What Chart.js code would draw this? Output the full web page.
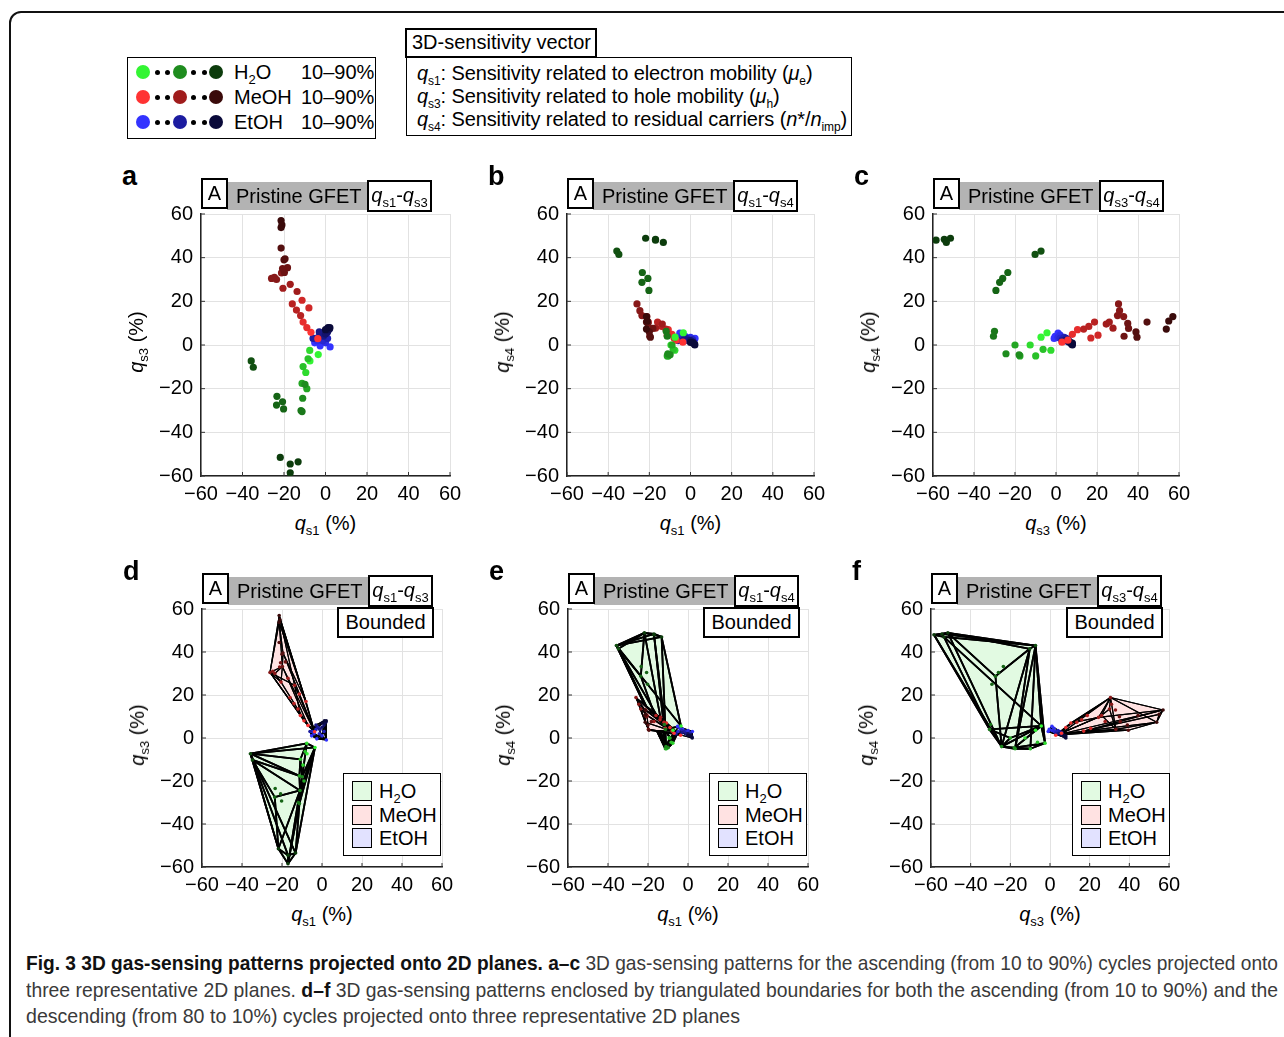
<!DOCTYPE html>
<html>
<head>
<meta charset="utf-8">
<script src="https://cdn.jsdelivr.net/npm/chart.js@4.4.1/dist/chart.umd.min.js"></script>
<style>
  body { margin: 0; background: #fff; }
  #page { position: relative; width: 1284px; height: 1037px; overflow: hidden;
          font-family: "Liberation Sans", Arial, sans-serif; color: #000; }
  .frame { position: absolute; left: 9px; top: 11px; width: 1300px; height: 1100px;
           border: 2px solid #111; border-radius: 12px; }
  .box { position: absolute; border: 1.5px solid #000; box-sizing: border-box; background: #fff; }
  .thick { border-width: 2.5px; }
  .txt { position: absolute; font-size: 20px; line-height: 24px; white-space: nowrap; }
  .letter { position: absolute; font-size: 27px; font-weight: bold; line-height: 30px; }
  .gray { position: absolute; background: #b3b3b3; }
  .dot { position: absolute; border-radius: 50%; }
  .sw { position: absolute; width: 20px; height: 20px; border: 1.5px solid #000; box-sizing: border-box; }
  sub { font-size: 13px; vertical-align: -5px; line-height: 0; }
  .vec sub { font-size: 12px; }
  canvas { position: absolute; }
  .cap { position: absolute; left: 26px; font-size: 21px; line-height: 24px; white-space: nowrap;
         transform-origin: 0 50%; color: #3a3a3a; display: inline-block; }
  .cap b { color: #111; }
  .ytitle { transform: translate(-50%, -50%) rotate(-90deg); }
</style>
</head>
<body>
<div id="page">
  <div class="frame"></div>
</div>
<script>
const tickValues = [-60, -40, -20, 0, 20, 40, 60];
const levelLabels = ['10%', '20%', '30%', '40%', '50%', '60%', '70%', '80%', '90%'];

// H2O
const h2oLevel = [1, 1, 2, 2, 3, 3, 4, 4, 5, 5, 6, 6, 7, 7, 7, 7, 8, 8, 9, 9, 9, 9];
const h2oQs1 = [-3.5, -7.5, -7.6, -9.5, -10.8, -8.4, -11.3, -9, -11, -9.9, -11.8, -11.3,
                -23.4, -20.7, -23.6, -20.2, -35.8, -34.8, -21.8, -17, -13.2, -17];
const h2oQs3 = [-4.4, -7.3, -2.5, -12.6, -9.9, -6.3, -17.6, -20, -24.4, -18, -30, -30.5,
                -23.5, -26, -27.5, -29.3, -7.3, -10.2, -51.5, -54.5, -53.5, -58.5];
const h2oQs4 = [5.6, 3.6, -2.4, 0, -5, -2, -5, 0, -4, -4.5, 6.3, 4,
                33.2, 30.5, 28.7, 25, 43, 41.5, 48.9, 48.4, 47, 48];

// MeOH
const meohLevel = [1, 1, 2, 2, 3, 3, 4, 4, 4, 5, 5, 5, 6, 6, 6, 6, 7, 7, 7, 8, 8, 8, 9, 9, 9];
const meohQs1 = [-3.7, -7, -9, -10.8, -8, -11.3, -12, -14, -16, -13.7, -17, -20.5,
                 -26, -24.6, -23.6, -21.2, -19.8, -18.3, -20.7, -20, -19.5, -21.4, -21.4, -21.4, -21];
const meohQs3 = [2.9, 5.8, 8, 10.5, 17, 20.5, 13.5, 16, 18.8, 24.5, 27.8, 26,
                 30.5, 31, 30, 33, 33.2, 35.4, 35, 39, 39.5, 44.4, 53.8, 57, 55];
const meohQs4 = [1.3, 2.2, 4.9, 7, 3.2, 4.5, 7.3, 8.5, 10.5, 9.6, 7.7, 10.5,
                 18.8, 15.7, 13.5, 13, 4, 7.6, 9.9, 6, 3.6, 10.5, 7.3, 13, 11];

// EtOH
const etohLevel = [1, 1, 1, 2, 2, 3, 3, 4, 4, 5, 5, 6, 6, 7, 7, 8, 8, 9, 9, 9];
const etohQs1 = [-2.6, 2.2, -5.2, -4, 0, -5, -1.3, -3, 1, -2, -6, -1, -3, 0, 1, 1.5, 2, 1.2, 2.1, 0];
const etohQs3 = [-0.4, -0.9, 1, 2, 1, 3, 2, 4, 3, 5, 3, 4, 6, 5, 6, 7, 7.5, 8, 8, 7];
const etohQs4 = [4, 3, 5.4, 4.5, 3.5, 3, 3.1, 3.5, 2.5, 3, 2, 2, 2.5, 2, 1.5, 1, 0.5, 0.9, 0, 1.2];

// colours: 10% -> 50% -> 90%
const h2oShades = [[51, 245, 51], [30, 140, 30], [12, 60, 12]];
const meohShades = [[255, 51, 51], [160, 28, 28], [58, 10, 10]];
const etohShades = [[51, 51, 255], [28, 28, 160], [10, 10, 58]];
const hullFills = ['rgb(226,250,226)', 'rgb(255,226,226)', 'rgb(226,226,255)'];

function mix(a, b, t) {
  return a.map((v, i) => Math.round(v + (b[i] - v) * t));
}
function shade(shades, level) {
  const t = (level - 1) / 8;
  const c = t <= 0.5 ? mix(shades[0], shades[1], t * 2) : mix(shades[1], shades[2], (t - 0.5) * 2);
  return `rgb(${c[0]},${c[1]},${c[2]})`;
}
function toPoints(q1, q3, q4) {
  return q1.map((v, i) => [v, q3[i], q4[i]]);
}

const gases = [
  { name: 'H2O', html: 'H<sub>2</sub>O', level: h2oLevel, pts: toPoints(h2oQs1, h2oQs3, h2oQs4), shades: h2oShades },
  { name: 'MeOH', html: 'MeOH', level: meohLevel, pts: toPoints(meohQs1, meohQs3, meohQs4), shades: meohShades },
  { name: 'EtOH', html: 'EtOH', level: etohLevel, pts: toPoints(etohQs1, etohQs3, etohQs4), shades: etohShades }
];

// boundary of the 3D point cloud (brute force convex hull faces)
function hullFaces(p) {
  const faces = [];
  const n = p.length;
  for (let i = 0; i < n; i++) for (let j = i + 1; j < n; j++) for (let k = j + 1; k < n; k++) {
    const a = p[i], b = p[j], c = p[k];
    const u = [b[0] - a[0], b[1] - a[1], b[2] - a[2]];
    const v = [c[0] - a[0], c[1] - a[1], c[2] - a[2]];
    const nx = u[1] * v[2] - u[2] * v[1];
    const ny = u[2] * v[0] - u[0] * v[2];
    const nz = u[0] * v[1] - u[1] * v[0];
    const len = Math.hypot(nx, ny, nz);
    if (len < 1e-6) continue;
    let pos = 0, neg = 0;
    for (let m = 0; m < n; m++) {
      if (m === i || m === j || m === k) continue;
      const d = (nx * (p[m][0] - a[0]) + ny * (p[m][1] - a[1]) + nz * (p[m][2] - a[2])) / len;
      if (d > 1e-6) pos++; else if (d < -1e-6) neg++;
    }
    if (pos === 0 || neg === 0) faces.push([i, j, k]);
  }
  return faces;
}
gases.forEach(g => { g.faces = hullFaces(g.pts); });

// ---- panels ----
const axisSubs = ['<sub>s1</sub>', '<sub>s3</sub>', '<sub>s4</sub>'];
const panels = [
  { id: 'a', xi: 0, yi: 1, left: 201, right: 450, top: 208, bottom: 475.5, bounded: false },
  { id: 'b', xi: 0, yi: 2, left: 567, right: 814, top: 208, bottom: 475.5, bounded: false },
  { id: 'c', xi: 1, yi: 2, left: 933, right: 1179, top: 208, bottom: 475.5, bounded: false },
  { id: 'd', xi: 0, yi: 1, left: 202, right: 442, top: 603, bottom: 867, bounded: true },
  { id: 'e', xi: 0, yi: 2, left: 568, right: 808, top: 603, bottom: 867, bounded: true },
  { id: 'f', xi: 1, yi: 2, left: 931, right: 1169, top: 603, bottom: 867, bounded: true }
];

const hullPlugin = {
  id: 'hull',
  beforeDatasetsDraw(chart, args, opts) {
    if (!opts.show) return;
    const { ctx, chartArea, scales } = chart;
    ctx.save();
    ctx.beginPath();
    ctx.rect(chartArea.left, chartArea.top, chartArea.width, chartArea.height);
    ctx.clip();
    gases.forEach((g, gi) => {
      const px = g.pts.map(p => [scales.x.getPixelForValue(p[opts.xi]), scales.y.getPixelForValue(p[opts.yi])]);
      const tri = f => {
        ctx.beginPath();
        ctx.moveTo(px[f[0]][0], px[f[0]][1]);
        ctx.lineTo(px[f[1]][0], px[f[1]][1]);
        ctx.lineTo(px[f[2]][0], px[f[2]][1]);
        ctx.closePath();
      };
      ctx.fillStyle = hullFills[gi];
      g.faces.forEach(f => { tri(f); ctx.fill(); });
      ctx.strokeStyle = '#000';
      ctx.lineWidth = gi === 0 ? 1.8 : 1.1;
      ctx.lineJoin = 'round';
      g.faces.forEach(f => { tri(f); ctx.stroke(); });
    });
    ctx.restore();
  }
};

// MATLAB style inward ticks
const inTicks = {
  id: 'inTicks',
  afterDraw(chart) {
    const { ctx, chartArea, scales } = chart;
    ctx.save();
    ctx.strokeStyle = '#333';
    ctx.lineWidth = 1;
    tickValues.forEach(v => {
      const x = scales.x.getPixelForValue(v);
      const y = scales.y.getPixelForValue(v);
      ctx.beginPath();
      ctx.moveTo(x, chartArea.bottom); ctx.lineTo(x, chartArea.bottom - 4);
      ctx.moveTo(chartArea.left, y); ctx.lineTo(chartArea.left + 4, y);
      ctx.stroke();
    });
    ctx.restore();
  }
};

function axisOpts(pos) {
  return {
    type: 'linear', position: pos, min: -60, max: 60,
    afterBuildTicks: s => { s.ticks = tickValues.map(v => ({ value: v })); },
    ticks: {
      color: '#000', padding: pos === 'left' ? 8 : 6, autoSkip: false, maxRotation: 0,
      font: { family: '"Liberation Sans", Arial, sans-serif', size: 20 },
      callback: v => String(v).replace('-', '\u2212')
    },
    grid: { color: '#e2e2e2', lineWidth: 1, drawTicks: false },
    border: { color: '#222', width: 1.5 },
    afterFit: s => { if (pos === 'left') s.width = 52; else s.height = 32; }
  };
}

const page = document.getElementById('page');
function add(html, cls, style) {
  const el = document.createElement('div');
  el.className = cls;
  el.innerHTML = html;
  Object.assign(el.style, style);
  page.appendChild(el);
  return el;
}
const px = v => v + 'px';

panels.forEach(p => {
  const padT = 14, padR = 18, yW = 52, xH = 32;
  const canvas = document.createElement('canvas');
  canvas.width = Math.round(p.right - p.left + yW + padR);
  canvas.height = Math.round(p.bottom - p.top + padT + xH);
  canvas.style.left = px(p.left - yW);
  canvas.style.top = px(p.top - padT);
  page.appendChild(canvas);

  const datasets = gases.map(g => ({
    label: g.name,
    data: g.pts.map(q => ({ x: q[p.xi], y: q[p.yi] })),
    pointBackgroundColor: g.level.map(l => shade(g.shades, l)),
    pointBorderWidth: 0,
    pointRadius: p.bounded ? 1.8 : 3.6,
    showLine: false
  }));

  new Chart(canvas, {
    type: 'scatter',
    data: { datasets },
    options: {
      responsive: false, animation: false, devicePixelRatio: 1,
      layout: { padding: { top: padT, right: padR, left: 0, bottom: 0 } },
      scales: { x: axisOpts('bottom'), y: axisOpts('left') },
      plugins: {
        legend: { display: false }, tooltip: { enabled: false },
        hull: { show: p.bounded, xi: p.xi, yi: p.yi }
      }
    },
    plugins: [hullPlugin, inTicks]
  });

  const L = p.left, T = p.top, mid = (p.left + p.right) / 2, midY = (p.top + p.bottom) / 2;
  // panel letter
  add(p.id, 'letter', { left: px(L - 79), top: px(T - 47) });
  // header: A | Pristine GFET | qx-qy
  add('', 'gray', { left: px(L + 26), top: px(T - 26), width: px(141), height: px(28) });
  add('A', 'box thick txt', { left: px(L), top: px(T - 30), width: px(27), height: px(31), textAlign: 'center', lineHeight: '27px' });
  add('Pristine GFET', 'txt', { left: px(L + 35), top: px(T - 24) });
  add(`<i>q</i>${axisSubs[p.xi]}-<i>q</i>${axisSubs[p.yi]}`,
      'box thick txt', { left: px(L + 166), top: px(T - 28), width: px(65), height: px(32), textAlign: 'center', lineHeight: '26px' });
  // axis titles
  add(`<i>q</i>${axisSubs[p.xi]} (%)`, 'txt', { left: px(mid), top: px(p.bottom + 35), transform: 'translateX(-50%)' });
  add(`<i>q</i>${axisSubs[p.yi]} (%)`, 'txt ytitle', { left: px(L - 65), top: px(midY) });

  if (p.bounded) {
    add('Bounded', 'box thick txt', { left: px(L + 135), top: px(T + 4), width: px(97), height: px(31), textAlign: 'center', lineHeight: '26px' });
    add('', 'box', { left: px(L + 141), top: px(T + 170), width: px(98), height: px(83) });
    gases.forEach((g, gi) => {
      const y = T + 170 + 8 + gi * 23.5;
      add('', 'sw', { left: px(L + 150), top: px(y), background: hullFills[gi] });
      add(g.html, 'txt', { left: px(L + 177), top: px(y - 2) });
    });
  }
});

// ---- top legend: concentration shading ----
add('', 'box', { left: px(127), top: px(57), width: px(249), height: px(82) });
const bigDots = [143, 180, 216];
const smallDots = [157, 167, 193, 204];
gases.forEach((g, gi) => {
  const cy = 72 + gi * 25;
  [1, 5, 9].forEach((lv, k) => {
    add('', 'dot', { left: px(bigDots[k] - 7), top: px(cy - 7), width: px(14), height: px(14), background: shade(g.shades, lv) });
  });
  smallDots.forEach(x => add('', 'dot', { left: px(x - 2.5), top: px(cy - 2.5), width: px(5), height: px(5), background: '#000' }));
  add(g.html, 'txt', { left: px(234), top: px(cy - 12) });
  add(levelLabels[0].replace('%', '') + '\u2013' + levelLabels[8], 'txt', { left: px(301), top: px(cy - 12) });
});

// ---- 3D sensitivity vector box ----
add('3D-sensitivity vector', 'box thick txt', { left: px(405), top: px(28), width: px(192), height: px(30), lineHeight: '25px', paddingLeft: '5px' });
add('', 'box', { left: px(406), top: px(57), width: px(446), height: px(79) });
const vecLines = [
  '<i>q</i><sub>s1</sub>: Sensitivity related to electron mobility (<i>\u03bc</i><sub>e</sub>)',
  '<i>q</i><sub>s3</sub>: Sensitivity related to hole mobility (<i>\u03bc</i><sub>h</sub>)',
  '<i>q</i><sub>s4</sub>: Sensitivity related to residual carriers (<i>n</i>*/<i>n</i><sub>imp</sub>)'
];
vecLines.forEach((t, i) => add(t, 'txt vec', { left: px(417), top: px(61 + i * 23), letterSpacing: '-0.1px' }));

// ---- caption ----
const capLines = [
  ['<b>Fig. 3 3D gas-sensing patterns projected onto 2D planes. a\u2013c</b> 3D gas-sensing patterns for the ascending (from 10 to 90%) cycles projected onto', 1252, 951],
  ['three representative 2D planes. <b>d\u2013f</b> 3D gas-sensing patterns enclosed by triangulated boundaries for both the ascending (from 10 to 90%) and the', 1252, 978],
  ['descending (from 80 to 10%) cycles projected onto three representative 2D planes', 714, 1004]
];
capLines.forEach(([t, w, top]) => {
  const el = add(t, 'cap', { top: px(top) });
  const nat = el.getBoundingClientRect().width;
  el.style.transform = `scaleX(${w / nat})`;
});
</script>
</body>
</html>
